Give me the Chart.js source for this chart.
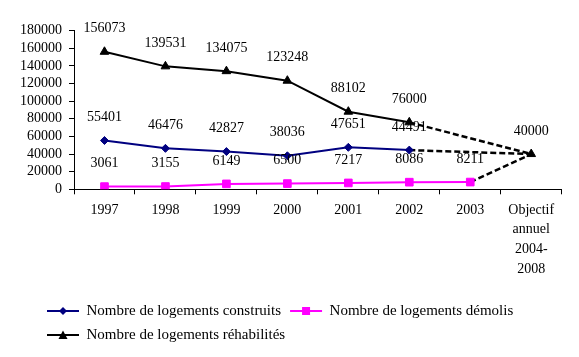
<!DOCTYPE html>
<html>
<head>
<meta charset="utf-8">
<script src="https://cdn.jsdelivr.net/npm/chart.js@4.4.1/dist/chart.umd.min.js"></script>
<style>
  html, body { margin: 0; padding: 0; background: #fff; }
  canvas { display: block; }
</style>
</head>
<body>
<canvas id="c" width="579" height="357"></canvas>
<script>
const categories = ['1997', '1998', '1999', '2000', '2001', '2002', '2003', ['Objectif', 'annuel', '2004-', '2008']];
const seriesNames = ['Nombre de logements construits', 'Nombre de logements démolis', 'Nombre de logements réhabilités'];
const construits = [55401, 46476, 42827, 38036, 47651, 44491, null, 40000];
const demolis = [3061, 3155, 6149, 6500, 7217, 8086, 8211, 40000];
const rehabilites = [156073, 139531, 134075, 123248, 88102, 76000, null, 40000];
const yTicks = [0, 20000, 40000, 60000, 80000, 100000, 120000, 140000, 160000, 180000];
const objectiveIndex = 7;

const FONT = "'Liberation Serif', 'Times New Roman', serif";
Chart.defaults.font.family = FONT;
Chart.defaults.color = '#000';

function makeIcon(color, shape) {
  const c = document.createElement('canvas');
  c.width = 34; c.height = 12;
  const g = c.getContext('2d');
  g.strokeStyle = color; g.lineWidth = 2;
  g.beginPath(); g.moveTo(1, 6); g.lineTo(33, 6); g.stroke();
  g.fillStyle = color;
  g.beginPath();
  if (shape === 'diamond') {
    g.moveTo(17, 2); g.lineTo(21, 6); g.lineTo(17, 10); g.lineTo(13, 6);
  } else if (shape === 'square') {
    g.rect(13, 2, 8, 8);
  } else {
    g.moveTo(17, 1.5); g.lineTo(21.5, 10); g.lineTo(12.5, 10);
  }
  g.closePath(); g.fill();
  return c;
}
const icons = [makeIcon('#000080', 'diamond'), makeIcon('#FF00FF', 'square'), makeIcon('#000000', 'triangle')];

const dashSeg = {
  borderDash: ctx => ctx.p1DataIndex === objectiveIndex ? [6, 3] : undefined,
  borderColor: ctx => ctx.p1DataIndex === objectiveIndex ? '#000000' : undefined,
  borderWidth: ctx => ctx.p1DataIndex === objectiveIndex ? 2.5 : undefined
};

function radii(r, hideLast) {
  return categories.map((_, i) => (hideLast && i === objectiveIndex) ? 0 : r);
}

const labelPlugin = {
  id: 'valueLabels',
  afterDatasetsDraw(chart) {
    const ctx = chart.ctx;
    ctx.save();
    ctx.font = '14px ' + FONT;
    ctx.fillStyle = '#000';
    ctx.textAlign = 'center';
    ctx.textBaseline = 'middle';
    chart.data.datasets.forEach((ds, di) => {
      const meta = chart.getDatasetMeta(di);
      meta.data.forEach((pt, i) => {
        const v = ds.data[i];
        if (v === null || v === undefined) return;
        if (i === objectiveIndex && di !== 2) return;
        ctx.fillText(String(v), pt.x, pt.y - 23);
      });
    });
    ctx.restore();
  }
};

const legendPosPlugin = {
  id: 'legendPos',
  afterLayout(chart) {
    const l = chart.legend;
    if (!l) return;
    const h = l.height;
    l.left = 38;
    l.top = 294.5;
    l.bottom = l.top + h;
  }
};

new Chart(document.getElementById('c'), {
  type: 'line',
  data: {
    labels: categories,
    datasets: [
      {
        label: seriesNames[0], data: construits, order: 1,
        borderColor: '#000080', backgroundColor: '#000080', borderWidth: 2,
        pointStyle: 'rectRot', pointRadius: radii(4, true), pointBorderWidth: 1,
        pointBackgroundColor: '#000080', pointBorderColor: '#000080',
        spanGaps: true, tension: 0, segment: dashSeg
      },
      {
        label: seriesNames[1], data: demolis, order: 2,
        borderColor: '#FF00FF', backgroundColor: '#FF00FF', borderWidth: 2,
        pointStyle: 'rect', pointRadius: radii(5.4, true), pointBorderWidth: 1,
        pointBackgroundColor: '#FF00FF', pointBorderColor: '#FF00FF',
        spanGaps: true, tension: 0, segment: dashSeg
      },
      {
        label: seriesNames[2], data: rehabilites, order: 0,
        borderColor: '#000000', backgroundColor: '#000000', borderWidth: 2,
        pointStyle: 'triangle', pointRadius: radii(5, false), pointBorderWidth: 1,
        pointBackgroundColor: '#000000', pointBorderColor: '#000000',
        spanGaps: true, tension: 0, segment: dashSeg
      }
    ]
  },
  options: {
    responsive: false,
    animation: false,
    devicePixelRatio: 1,
    layout: { padding: { left: 13, right: 17.3, top: 30.7, bottom: 14.2 } },
    plugins: {
      tooltip: { enabled: false },
      legend: {
        position: 'bottom',
        align: 'start',
        labels: {
          usePointStyle: true,
          pointStyleWidth: 32,
          padding: 9,
          color: '#000',
          font: { size: 15, family: FONT },
          generateLabels: chart => chart.data.datasets.map((ds, i) => ({
            text: ds.label, pointStyle: icons[i], datasetIndex: i,
            hidden: false, lineWidth: 0, strokeStyle: 'rgba(0,0,0,0)', fillStyle: 'rgba(0,0,0,0)', fontColor: '#000'
          }))
        }
      }
    },
    scales: {
      x: {
        type: 'category',
        offset: true,
        grid: { display: true, offset: true, drawOnChartArea: false, drawTicks: true, tickLength: 5, color: '#000' },
        border: { display: true, color: '#000', width: 1 },
        ticks: {
          color: '#000', padding: 6, maxRotation: 0, autoSkip: false,
          font: { size: 14, family: FONT, lineHeight: 1.4 }
        },
        afterFit: s => { s.height = 95.5; }
      },
      y: {
        min: 0, max: 180000,
        afterBuildTicks: s => { s.ticks = yTicks.map(v => ({ value: v })); },
        grid: { display: true, drawOnChartArea: false, drawTicks: true, tickLength: 5, color: '#000' },
        border: { display: true, color: '#000', width: 1 },
        ticks: {
          color: '#000', padding: 7, autoSkip: false,
          font: { size: 14, family: FONT },
          callback: v => String(v)
        },
        afterFit: s => { s.width = 61; }
      }
    }
  },
  plugins: [labelPlugin, legendPosPlugin]
});
</script>
</body>
</html>
